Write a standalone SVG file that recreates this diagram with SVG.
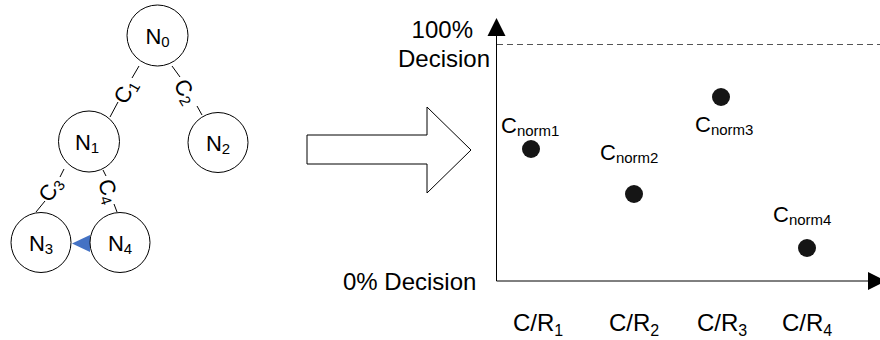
<svg xmlns="http://www.w3.org/2000/svg" width="880" height="340" viewBox="0 0 880 340">
  <style>
    text { font-family: "Liberation Sans", Arial, sans-serif; fill: #000; }
    .node { fill: #fff; stroke: #000; stroke-width: 1; }
    .nlab { font-size: 22px; }
    .sub { font-size: 15px; }
    .edge { stroke: #000; stroke-width: 1; fill: none; }
    .elab { font-size: 22px; }
    .axis { stroke: #000; stroke-width: 1; fill: none; }
    .alab { font-size: 24px; }
    .asub { font-size: 16px; }
    .plab { font-size: 22px; }
    .dot { fill: #151515; }
  </style>

  <!-- decision tree edges -->
  <g id="connectors">
    <path class="edge" d="M139 66 L132 78 M118 102 L110 117"/>
    <path class="edge" d="M172 66 L180 77 M197 106 L202 115"/>
    <path class="edge" d="M64 169 L60 177 M45 201 L36 212"/>
    <path class="edge" d="M103 170 L106 176 M114 204 L117 212"/>
    <text class="elab" text-anchor="middle" transform="translate(125 91) rotate(-60)" y="8">C<tspan class="sub" dy="3">1</tspan></text>
    <text class="elab" text-anchor="middle" transform="translate(186 91) rotate(59)" y="8">C<tspan class="sub" dy="3">2</tspan></text>
    <text class="elab" text-anchor="middle" transform="translate(50 189) rotate(-57)" y="8">C<tspan class="sub" dy="3">3</tspan></text>
    <text class="elab" text-anchor="middle" transform="translate(109 191) rotate(72)" y="8">C<tspan class="sub" dy="3">4</tspan></text>
    <polygon points="72,243.5 90,235 90,252" fill="#4472C4"/>
  </g>

  <!-- tree nodes -->
  <g id="n0">
    <circle class="node" cx="157.5" cy="35.5" r="30.5"/>
    <text class="nlab" x="157.5" y="43.5" text-anchor="middle">N<tspan class="sub" dy="3">0</tspan></text>
  </g>
  <g id="n1">
    <circle class="node" cx="89" cy="141.5" r="30.5"/>
    <text class="nlab" x="87" y="149.5" text-anchor="middle">N<tspan class="sub" dy="3">1</tspan></text>
  </g>
  <g id="n2">
    <circle class="node" cx="218" cy="142.5" r="30"/>
    <text class="nlab" x="218" y="150.5" text-anchor="middle">N<tspan class="sub" dy="3">2</tspan></text>
  </g>
  <g id="n3">
    <circle class="node" cx="41" cy="242.5" r="30"/>
    <text class="nlab" x="41" y="250.5" text-anchor="middle">N<tspan class="sub" dy="3">3</tspan></text>
  </g>
  <g id="n4">
    <circle class="node" cx="120" cy="242.5" r="30"/>
    <text class="nlab" x="120" y="250.5" text-anchor="middle">N<tspan class="sub" dy="3">4</tspan></text>
  </g>

  <!-- transformation arrow -->
  <g id="big-arrow">
    <polygon points="307,135 427,135 427,107 471,150 427,193 427,164 307,164" fill="#fff" stroke="#000" stroke-width="1"/>
  </g>

  <!-- decision chart -->
  <g id="chart">
    <line class="axis" x1="496.5" y1="35" x2="496.5" y2="281"/>
    <line class="axis" x1="496.5" y1="281" x2="870" y2="281"/>
    <polygon points="496.5,18 487.5,36 505.5,36" fill="#000"/>
    <polygon points="886,281 868,272 868,290" fill="#000"/>
    <line x1="497" y1="44.5" x2="880" y2="44.5" stroke="#555" stroke-width="1" stroke-dasharray="6,4"/>
    <text class="alab" x="473" y="38" text-anchor="end">100%</text>
    <text class="alab" x="490" y="66.5" text-anchor="end">Decision</text>
    <text class="alab" x="343" y="290">0% Decision</text>
    <text class="alab" x="513" y="331">C/R<tspan class="asub" dy="5">1</tspan></text>
    <text class="alab" x="609" y="331">C/R<tspan class="asub" dy="5">2</tspan></text>
    <text class="alab" x="697" y="331">C/R<tspan class="asub" dy="5">3</tspan></text>
    <text class="alab" x="782" y="331">C/R<tspan class="asub" dy="5">4</tspan></text>
  </g>

  <g id="p1">
    <circle class="dot" cx="531" cy="149" r="9"/>
    <text class="plab" x="501" y="133">C<tspan class="sub" dy="3">norm1</tspan></text>
  </g>
  <g id="p2">
    <circle class="dot" cx="634" cy="194" r="9"/>
    <text class="plab" x="600" y="160">C<tspan class="sub" dy="3">norm2</tspan></text>
  </g>
  <g id="p3">
    <circle class="dot" cx="721" cy="97" r="9"/>
    <text class="plab" x="695" y="132">C<tspan class="sub" dy="3">norm3</tspan></text>
  </g>
  <g id="p4">
    <circle class="dot" cx="807" cy="248" r="9"/>
    <text class="plab" x="773" y="222">C<tspan class="sub" dy="3">norm4</tspan></text>
  </g>
</svg>
